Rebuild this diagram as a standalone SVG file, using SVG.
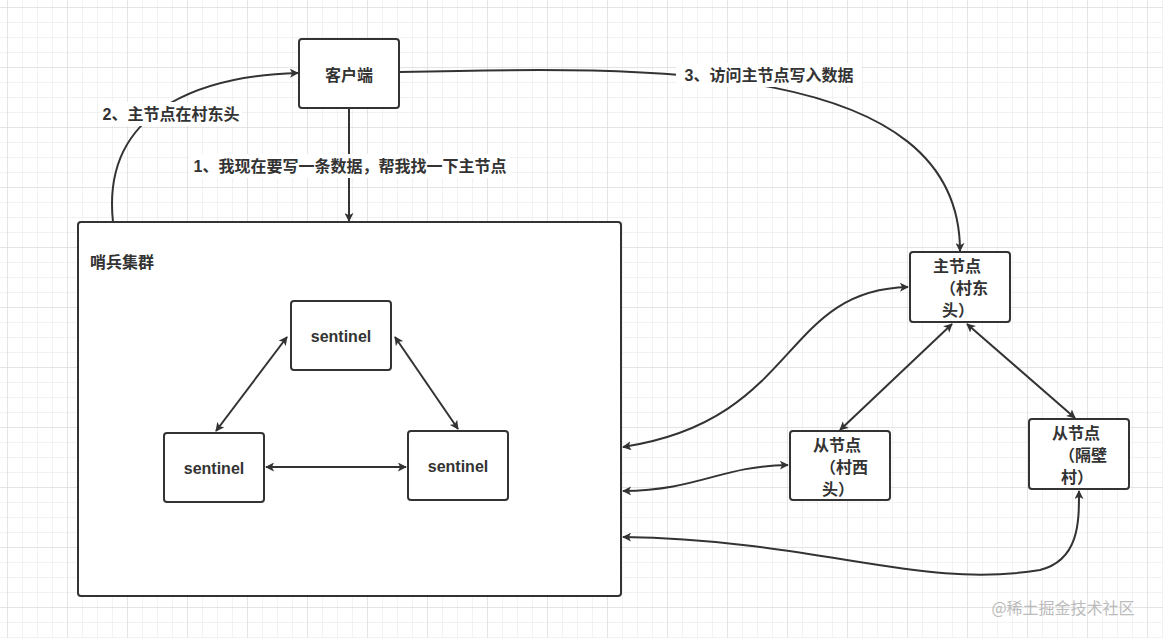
<svg xmlns="http://www.w3.org/2000/svg" width="1163" height="638" viewBox="0 0 1163 638">
<defs>
<pattern id="g" width="15" height="15" patternUnits="userSpaceOnUse" x="7" y="7"><path d="M0 0H15M0 0V15" stroke="#e6e6e6" stroke-width="1" fill="none"/></pattern>
<pattern id="G" width="60" height="60" patternUnits="userSpaceOnUse" x="7" y="7"><path d="M0 0H60M0 0V60" stroke="#d6d6d6" stroke-width="1" fill="none"/></pattern>
<marker id="a" viewBox="0 0 10 10" refX="9" refY="5" markerWidth="9" markerHeight="9" orient="auto-start-reverse" markerUnits="userSpaceOnUse"><path d="M0 0L10 5L0 10L2.5 5Z" fill="#333"/></marker>
</defs>
<style>
.n{fill:#fff;stroke:#333;stroke-width:2}
.t{font-family:"Liberation Sans","Noto Sans CJK SC",sans-serif;font-size:16px;font-weight:bold;fill:#333}
.c{fill:none;stroke:#333;stroke-width:2}
.e{marker-end:url(#a)}
.b{marker-start:url(#a);marker-end:url(#a)}
.lb{fill:#fff}
</style>
<rect width="1163" height="638" fill="#fff"/>
<rect width="1163" height="638" fill="url(#g)"/>
<rect width="1163" height="638" fill="url(#G)"/>
<g id="cluster"><rect class="n" x="78" y="222" width="543" height="374" rx="3"/><text class="t" x="90" y="268">哨兵集群</text></g>
<g id="client"><rect class="n" x="299" y="39" width="100" height="69" rx="3"/><text class="t" x="349" y="81" text-anchor="middle">客户端</text></g>
<g id="s1"><rect class="n" x="291" y="301" width="100" height="69" rx="3"/><text class="t" x="341" y="342" text-anchor="middle">sentinel</text></g>
<g id="s2"><rect class="n" x="164" y="433" width="100" height="69" rx="3"/><text class="t" x="214" y="474" text-anchor="middle">sentinel</text></g>
<g id="s3"><rect class="n" x="408" y="431" width="100" height="69" rx="3"/><text class="t" x="458" y="472" text-anchor="middle">sentinel</text></g>
<g id="master"><rect class="n" x="910" y="252" width="100" height="70" rx="3"/><text class="t"><tspan x="933" y="272">主节点</tspan><tspan x="940" y="294">（村东</tspan><tspan x="942" y="316">头）</tspan></text></g>
<g id="slave1"><rect class="n" x="790" y="431" width="100" height="69" rx="3"/><text class="t"><tspan x="813" y="451">从节点</tspan><tspan x="820" y="473">（村西</tspan><tspan x="822" y="495">头）</tspan></text></g>
<g id="slave2"><rect class="n" x="1029" y="419" width="100" height="70" rx="3"/><text class="t"><tspan x="1052" y="439">从节点</tspan><tspan x="1059" y="461">（隔壁</tspan><tspan x="1061" y="483">村）</tspan></text></g>
<g id="connectors">
<path class="c e" d="M349 108V221"/>
<path class="c e" d="M113 222C100 100 220 75 298 73"/>
<path class="c e" d="M399 72C650 66 960 60 960 251"/>
<path class="c b" d="M623 447C800 420 780 290 908 287"/>
<path class="c b" d="M623 491C700 490 720 466 788 465"/>
<path class="c b" d="M623 537C820 540 920 590 1040 570C1080 560 1079 520 1079 491"/>
<path class="c b" d="M952 324L840 430"/>
<path class="c b" d="M967 324L1075 418"/>
<path class="c b" d="M287 337L216 431"/>
<path class="c b" d="M395 337L458 429"/>
<path class="c b" d="M266 467L406 467"/>
<rect class="lb" x="190" y="154" width="320" height="24"/>
<text class="t" x="350" y="172" text-anchor="middle">1、我现在要写一条数据，帮我找一下主节点</text>
<rect class="lb" x="100" y="102" width="142" height="24"/>
<text class="t" x="171" y="120" text-anchor="middle">2、主节点在村东头</text>
<rect class="lb" x="676" y="63" width="186" height="24"/>
<text class="t" x="769" y="81" text-anchor="middle">3、访问主节点写入数据</text>
</g>
<text x="1063" y="614" text-anchor="middle" style="font-family:'Noto Sans CJK SC',sans-serif;font-size:16px;fill:#bbb">@稀土掘金技术社区</text>
</svg>
